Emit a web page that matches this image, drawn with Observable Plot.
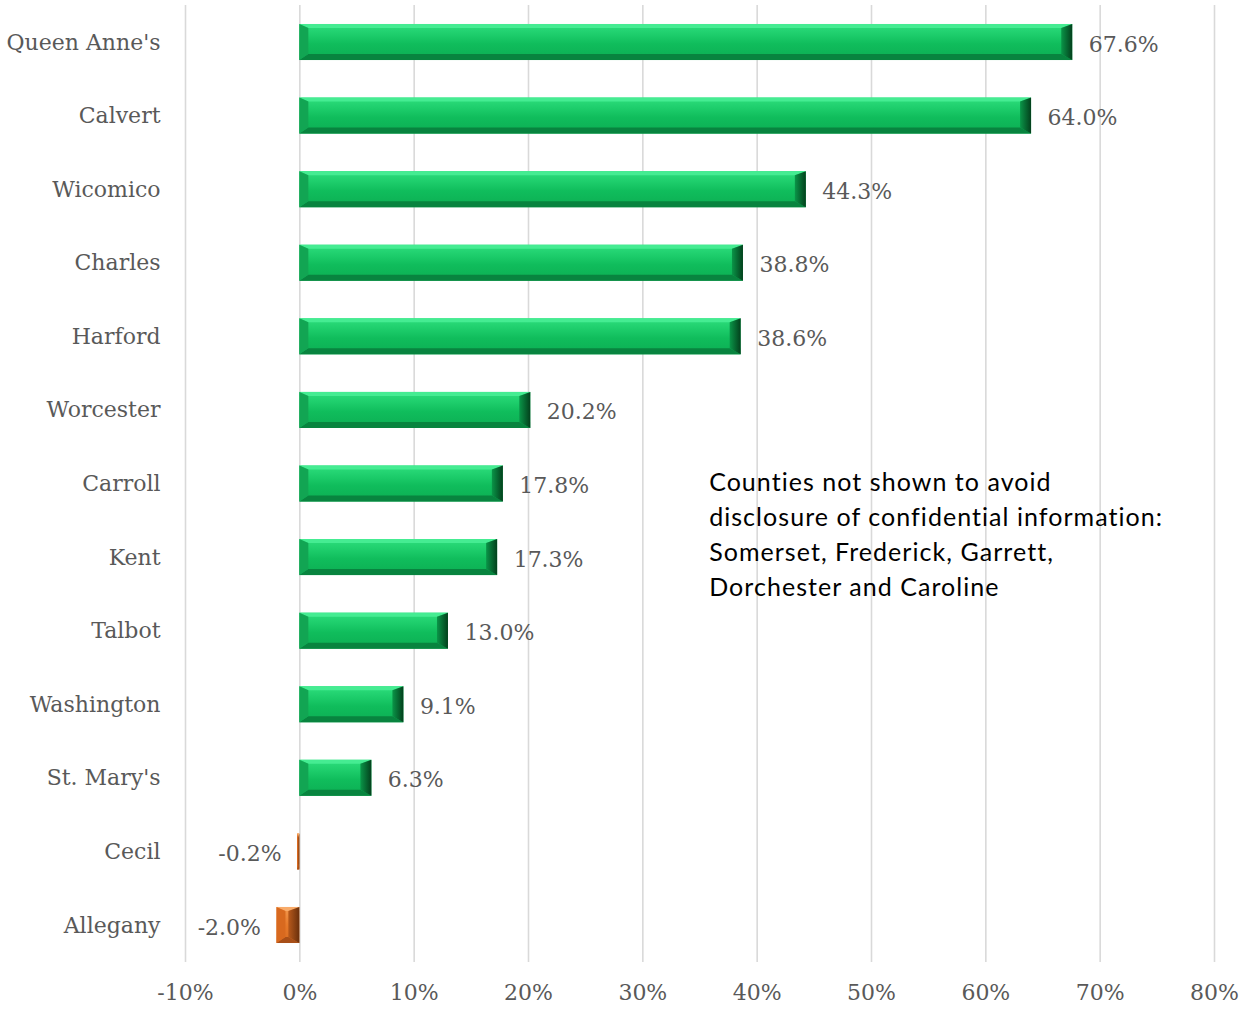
<!DOCTYPE html>
<html><head><meta charset="utf-8">
<script src="https://cdn.jsdelivr.net/npm/d3@7"></script>
<script src="https://cdn.jsdelivr.net/npm/@observablehq/plot@0.6"></script>
<style>body{margin:0;background:#fff}</style>
</head><body><div id="chart"></div>
<script>
const counties = ["Queen Anne's","Calvert","Wicomico","Charles","Harford","Worcester","Carroll","Kent","Talbot","Washington","St. Mary's","Cecil","Allegany"];
const changes = [67.6,64.0,44.3,38.8,38.6,20.2,17.8,17.3,13.0,9.1,6.3,-0.2,-2.0];
const xTicks = [-10,0,10,20,30,40,50,60,70,80];
const noteLines = ["Counties not shown to avoid","disclosure of confidential information:","Somerset, Frederick, Garrett,","Dorchester and Caroline"];
const noteAt = {x: 35.8, county: "Carroll"};

const data = counties.map((c, i) => ({county: c, value: changes[i]}));
const pos = data.filter(d => d.value >= 0);
const neg = data.filter(d => d.value < 0);
const fmt = d => d + "%";
const fmtVal = d => d.value.toFixed(1) + "%";

const NS = "http://www.w3.org/2000/svg";
function bevel(faces) {
  return (index, scales, values, dims, ctx, next) => {
    const g = next(index, scales, values, dims, ctx);
    g.querySelectorAll("rect").forEach(r => {
      const x = +r.getAttribute("x"), y = +r.getAttribute("y");
      const w = +r.getAttribute("width"), h = +r.getAttribute("height");
      const bt = Math.min(4, h / 3), bb = Math.min(6, h / 3);
      let bl = 9, br = 11;
      if (bl + br > w) { const k = w / (bl + br); bl *= k; br *= k; }
      const x2 = x + w, y2 = y + h;
      const polys = [
        [[x,y],[x2,y],[x2-br,y+bt],[x+bl,y+bt], faces.top],
        [[x,y2],[x2,y2],[x2-br,y2-bb],[x+bl,y2-bb], faces.bottom],
        [[x,y],[x+bl,y+bt],[x+bl,y2-bb],[x,y2], faces.left],
        [[x2,y],[x2-br,y+bt],[x2-br,y2-bb],[x2,y2], faces.right]
      ];
      polys.forEach(p => {
        const el = document.createElementNS(NS, "polygon");
        el.setAttribute("points", p.slice(0, 4).map(q => q.join(",")).join(" "));
        el.setAttribute("fill", p[4]);
        g.appendChild(el);
      });
    });
    return g;
  };
}

const plot = Plot.plot({
  width: 1242, height: 1009,
  marginLeft: 185, marginRight: 28, marginTop: 5, marginBottom: 47,
  style: {fontFamily: "DejaVu Serif", fontSize: "22px", color: "#595959", background: "#fff"},
  x: {domain: [-10, 80], label: null},
  y: {domain: counties, paddingInner: 0.51, paddingOuter: 0.258, round: false, label: null},
  marks: [
    Plot.ruleX(xTicks, {stroke: "#d9d9d9", strokeWidth: 1.6}),
    Plot.axisX({ticks: xTicks, tickFormat: fmt, tickSize: 0, tickPadding: 22, fontSize: 22, fill: "#595959", label: null}),
    Plot.axisY({tickSize: 0, tickPadding: 25, fontSize: 22, fill: "#595959", label: null}),
    Plot.barX(pos, {x: "value", y: "county", fill: "url(#gGreen)",
      render: bevel({top: "#45ec92", bottom: "#08843f", left: "#12a553", right: "url(#gGreenR)"})}),
    Plot.barX(neg, {x: "value", y: "county", fill: "url(#gOrange)",
      render: bevel({top: "#f8ab6a", bottom: "#a84f18", left: "#d8691f", right: "url(#gOrangeR)"})}),
    Plot.text(pos, {x: "value", y: "county", text: fmtVal, textAnchor: "start", dx: 16, dy: 2, fill: "#595959", fontSize: 22}),
    Plot.text(neg, {x: "value", y: "county", text: fmtVal, textAnchor: "end", dx: -16, dy: 2, fill: "#595959", fontSize: 22}),
    Plot.text([noteAt], {x: "x", y: "county", text: () => noteLines.join("\n"), textAnchor: "start", lineAnchor: "top",
      dy: -18, lineHeight: 1.4, fontFamily: "Lato", fontSize: 25, fill: "#000"})
  ]
});

const defs = document.createElementNS(NS, "defs");
defs.innerHTML = `
<linearGradient id="gGreen" x1="0" y1="0" x2="0" y2="1">
  <stop offset="0" stop-color="#2ede7d"/>
  <stop offset="0.3" stop-color="#1dcd6b"/>
  <stop offset="0.55" stop-color="#10bd5c"/>
  <stop offset="1" stop-color="#0cae53"/>
</linearGradient>
<linearGradient id="gGreenR" x1="0" y1="0" x2="1" y2="0">
  <stop offset="0" stop-color="#0a9548"/>
  <stop offset="1" stop-color="#03401c"/>
</linearGradient>
<linearGradient id="gOrange" x1="0" y1="0" x2="0" y2="1">
  <stop offset="0" stop-color="#f39a50"/>
  <stop offset="0.5" stop-color="#e6792a"/>
  <stop offset="1" stop-color="#d96d22"/>
</linearGradient>
<linearGradient id="gOrangeR" x1="0" y1="0" x2="1" y2="0">
  <stop offset="0" stop-color="#b85a1c"/>
  <stop offset="1" stop-color="#6a300c"/>
</linearGradient>`;
plot.insertBefore(defs, plot.firstChild);
plot.querySelectorAll('[font-family="Lato"]').forEach(g => {
  g.style.fontVariantLigatures = "none";
  g.style.fontFeatureSettings = '"liga" 0, "dlig" 0';
  g.style.letterSpacing = "1.05px";
});
document.getElementById("chart").appendChild(plot);
</script>
</body></html>
